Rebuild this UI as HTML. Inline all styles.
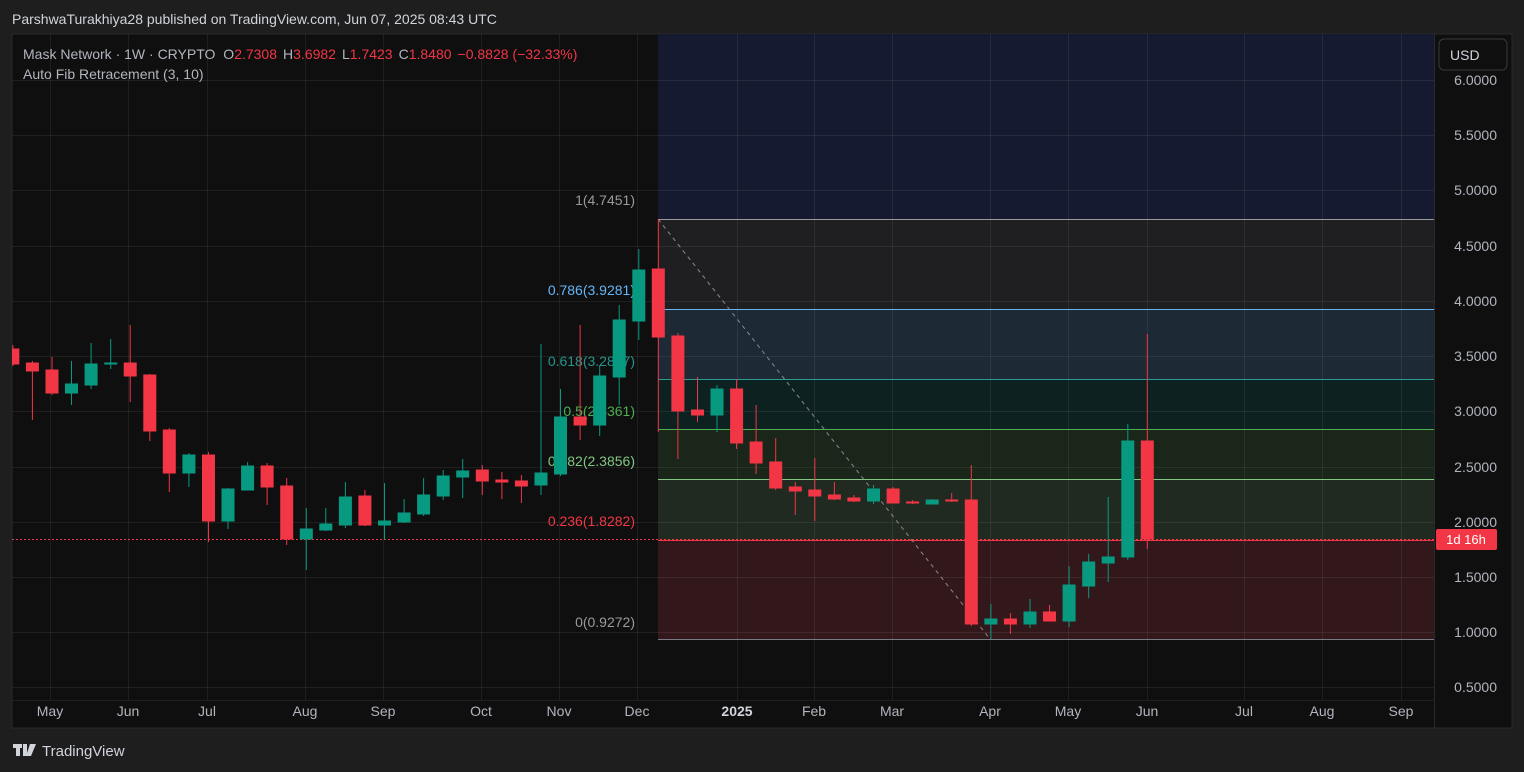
<!DOCTYPE html>
<html><head><meta charset="utf-8"><style>
html,body{margin:0;padding:0;background:#1e1e1e;width:1524px;height:772px;overflow:hidden}
svg{display:block;font-family:"Liberation Sans",sans-serif}
</style></head><body>
<svg width="1524" height="772" xmlns="http://www.w3.org/2000/svg">
<rect width="1524" height="772" fill="#1e1e1e"/>
<text x="12" y="24" fill="#d1d4dc" font-size="14">ParshwaTurakhiya28 published on TradingView.com, Jun 07, 2025 08:43 UTC</text>
<rect x="12" y="34" width="1500" height="694" fill="#0f0f0f" stroke="#2a2a2a"/>
<defs><clipPath id="c"><rect x="12" y="34" width="1422" height="666"/></clipPath></defs>
<g clip-path="url(#c)">
<!-- fib zones -->
<rect x="658" y="34" width="776" height="185" fill="#151a30"/>
<rect x="658" y="219" width="776" height="90" fill="#1f1f21"/>
<rect x="658" y="309" width="776" height="70" fill="#1d2935"/>
<rect x="658" y="379" width="776" height="50" fill="#0e2121"/>
<rect x="658" y="429" width="776" height="50" fill="#1a261a"/>
<rect x="658" y="479" width="776" height="61" fill="#202a20"/>
<rect x="658" y="540" width="776" height="100" fill="#32181b"/>
<!-- grid -->
<g stroke="#ffffff" stroke-opacity="0.07" stroke-width="1">
<line x1="12" x2="1434" y1="80.5" y2="80.5"/><line x1="12" x2="1434" y1="135.5" y2="135.5"/><line x1="12" x2="1434" y1="190.5" y2="190.5"/><line x1="12" x2="1434" y1="246.5" y2="246.5"/><line x1="12" x2="1434" y1="301.5" y2="301.5"/><line x1="12" x2="1434" y1="356.5" y2="356.5"/><line x1="12" x2="1434" y1="411.5" y2="411.5"/><line x1="12" x2="1434" y1="467.5" y2="467.5"/><line x1="12" x2="1434" y1="522.5" y2="522.5"/><line x1="12" x2="1434" y1="577.5" y2="577.5"/><line x1="12" x2="1434" y1="632.5" y2="632.5"/><line x1="12" x2="1434" y1="687.5" y2="687.5"/>
<line y1="34" y2="700" x1="50.5" x2="50.5"/><line y1="34" y2="700" x1="128.5" x2="128.5"/><line y1="34" y2="700" x1="207.5" x2="207.5"/><line y1="34" y2="700" x1="305.5" x2="305.5"/><line y1="34" y2="700" x1="383.5" x2="383.5"/><line y1="34" y2="700" x1="481.5" x2="481.5"/><line y1="34" y2="700" x1="559.5" x2="559.5"/><line y1="34" y2="700" x1="637.5" x2="637.5"/><line y1="34" y2="700" x1="737.5" x2="737.5"/><line y1="34" y2="700" x1="814.5" x2="814.5"/><line y1="34" y2="700" x1="892.5" x2="892.5"/><line y1="34" y2="700" x1="990.5" x2="990.5"/><line y1="34" y2="700" x1="1068.5" x2="1068.5"/><line y1="34" y2="700" x1="1147.5" x2="1147.5"/><line y1="34" y2="700" x1="1244.5" x2="1244.5"/><line y1="34" y2="700" x1="1322.5" x2="1322.5"/><line y1="34" y2="700" x1="1401.5" x2="1401.5"/>
</g>
<!-- fib lines -->
<line x1="658" x2="1434" y1="219.5" y2="219.5" stroke="#9a9a9a"/>
<line x1="658" x2="1434" y1="309.5" y2="309.5" stroke="#64b5f6"/>
<line x1="658" x2="1434" y1="379.5" y2="379.5" stroke="#2a9d93"/>
<line x1="658" x2="1434" y1="429.5" y2="429.5" stroke="#4caf50"/>
<line x1="658" x2="1434" y1="479.5" y2="479.5" stroke="#81c784"/>
<line x1="658" x2="1434" y1="540.5" y2="540.5" stroke="#f23645"/>
<line x1="658" x2="1434" y1="639.5" y2="639.5" stroke="#787b86"/>
<line x1="658" y1="219" x2="990" y2="639" stroke="#8a8a8a" stroke-dasharray="4,4"/>
<!-- fib labels -->
<g font-size="14" text-anchor="end">
<text x="635" y="205" fill="#9a9a9a">1(4.7451)</text>
<text x="635" y="295" fill="#64b5f6">0.786(3.9281)</text>
<text x="635" y="366" fill="#26948a">0.618(3.2877)</text>
<text x="635" y="416" fill="#4caf50">0.5(2.8361)</text>
<text x="635" y="466" fill="#81c784">0.382(2.3856)</text>
<text x="635" y="526" fill="#f23645">0.236(1.8282)</text>
<text x="635" y="627" fill="#9a9a9a">0(0.9272)</text>
</g>
<!-- current price dotted -->
<line x1="12" x2="1434" y1="539.5" y2="539.5" stroke="#f23645" stroke-dasharray="2,2"/>
<!-- candles -->
<g id="cd"></g>
<g stroke-width="1">
<g stroke="#f23645" fill="#f23645">
<line x1="12.85" x2="12.85" y1="345" y2="366"/><rect x="6.85" y="349" width="12" height="15"/>
<line x1="32.4" x2="32.4" y1="361" y2="420"/><rect x="26.4" y="363" width="12" height="8"/>
<line x1="52" x2="52" y1="357" y2="395"/><rect x="46" y="370" width="12" height="23"/>
<line x1="130.2" x2="130.2" y1="325" y2="402"/><rect x="124.2" y="363" width="12" height="13"/>
<line x1="149.8" x2="149.8" y1="374" y2="441"/><rect x="143.8" y="375" width="12" height="56"/>
<line x1="169.3" x2="169.3" y1="428" y2="492"/><rect x="163.3" y="430" width="12" height="43"/>
<line x1="208.5" x2="208.5" y1="452" y2="542"/><rect x="202.5" y="455" width="12" height="66"/>
<line x1="267.1" x2="267.1" y1="463" y2="505"/><rect x="261.1" y="466" width="12" height="21"/>
<line x1="286.7" x2="286.7" y1="478" y2="545"/><rect x="280.7" y="486" width="12" height="53"/>
<line x1="364.9" x2="364.9" y1="490" y2="526"/><rect x="358.9" y="496" width="12" height="29"/>
<line x1="482.3" x2="482.3" y1="465" y2="495"/><rect x="476.3" y="470" width="12" height="11"/>
<line x1="501.9" x2="501.9" y1="472" y2="499"/><rect x="495.9" y="480" width="12" height="2"/>
<line x1="521.4" x2="521.4" y1="475" y2="503"/><rect x="515.4" y="481" width="12" height="5"/>
<line x1="580.1" x2="580.1" y1="325" y2="440"/><rect x="574.1" y="417" width="12" height="8"/>
<line x1="658.3" x2="658.3" y1="219" y2="432"/><rect x="652.3" y="269" width="12" height="68"/>
<line x1="677.9" x2="677.9" y1="333" y2="459"/><rect x="671.9" y="336" width="12" height="75"/>
<line x1="697.5" x2="697.5" y1="377" y2="422"/><rect x="691.5" y="410" width="12" height="5"/>
<line x1="736.6" x2="736.6" y1="379" y2="449"/><rect x="730.6" y="389" width="12" height="54"/>
<line x1="756.1" x2="756.1" y1="405" y2="474"/><rect x="750.1" y="442" width="12" height="21"/>
<line x1="775.7" x2="775.7" y1="438" y2="490"/><rect x="769.7" y="462" width="12" height="26"/>
<line x1="795.3" x2="795.3" y1="482" y2="515"/><rect x="789.3" y="487" width="12" height="4"/>
<line x1="814.8" x2="814.8" y1="458" y2="521"/><rect x="808.8" y="490" width="12" height="6"/>
<line x1="834.4" x2="834.4" y1="482" y2="500"/><rect x="828.4" y="495" width="12" height="4"/>
<line x1="853.9" x2="853.9" y1="495" y2="502"/><rect x="847.9" y="498" width="12" height="3"/>
<line x1="893.1" x2="893.1" y1="487" y2="503"/><rect x="887.1" y="489" width="12" height="14"/>
<line x1="912.6" x2="912.6" y1="500" y2="504"/><rect x="906.6" y="502" width="12" height="1"/>
<line x1="951.7" x2="951.7" y1="493" y2="502"/><rect x="945.7" y="500" width="12" height="1"/>
<line x1="971.3" x2="971.3" y1="465" y2="626"/><rect x="965.3" y="500" width="12" height="124"/>
<line x1="1010.4" x2="1010.4" y1="613" y2="634"/><rect x="1004.4" y="619" width="12" height="5"/>
<line x1="1049.5" x2="1049.5" y1="605" y2="621"/><rect x="1043.5" y="612" width="12" height="9"/>
<line x1="1147.3" x2="1147.3" y1="334" y2="549"/><rect x="1141.3" y="441" width="12" height="98"/>
</g>
<g stroke="#089981" fill="#089981">
<line x1="71.5" x2="71.5" y1="361" y2="405"/><rect x="65.5" y="384" width="12" height="9"/>
<line x1="91.1" x2="91.1" y1="343" y2="389"/><rect x="85.1" y="364" width="12" height="21"/>
<line x1="110.7" x2="110.7" y1="339" y2="369"/><rect x="104.7" y="363" width="12" height="1"/>
<line x1="188.9" x2="188.9" y1="453" y2="487"/><rect x="182.9" y="455" width="12" height="18"/>
<line x1="228" x2="228" y1="488" y2="529"/><rect x="222" y="489" width="12" height="32"/>
<line x1="247.6" x2="247.6" y1="462" y2="490"/><rect x="241.6" y="466" width="12" height="24"/>
<line x1="306.3" x2="306.3" y1="508" y2="570"/><rect x="300.3" y="529" width="12" height="10"/>
<line x1="325.8" x2="325.8" y1="508" y2="531"/><rect x="319.8" y="524" width="12" height="6"/>
<line x1="345.4" x2="345.4" y1="482" y2="528"/><rect x="339.4" y="497" width="12" height="28"/>
<line x1="384.5" x2="384.5" y1="483" y2="540"/><rect x="378.5" y="521" width="12" height="4"/>
<line x1="404.1" x2="404.1" y1="499" y2="523"/><rect x="398.1" y="513" width="12" height="9"/>
<line x1="423.6" x2="423.6" y1="478" y2="516"/><rect x="417.6" y="495" width="12" height="19"/>
<line x1="443.2" x2="443.2" y1="470" y2="500"/><rect x="437.2" y="476" width="12" height="20"/>
<line x1="462.7" x2="462.7" y1="459" y2="498"/><rect x="456.7" y="471" width="12" height="6"/>
<line x1="541" x2="541" y1="344" y2="495"/><rect x="535" y="473" width="12" height="12"/>
<line x1="560.5" x2="560.5" y1="389" y2="476"/><rect x="554.5" y="417" width="12" height="57"/>
<line x1="599.7" x2="599.7" y1="365" y2="436"/><rect x="593.7" y="376" width="12" height="49"/>
<line x1="619.2" x2="619.2" y1="305" y2="405"/><rect x="613.2" y="320" width="12" height="57"/>
<line x1="638.8" x2="638.8" y1="249" y2="340"/><rect x="632.8" y="270" width="12" height="51"/>
<line x1="717" x2="717" y1="385" y2="432"/><rect x="711" y="389" width="12" height="26"/>
<line x1="873.5" x2="873.5" y1="485" y2="504"/><rect x="867.5" y="489" width="12" height="12"/>
<line x1="932.2" x2="932.2" y1="499" y2="504"/><rect x="926.2" y="500" width="12" height="4"/>
<line x1="990.9" x2="990.9" y1="604" y2="639"/><rect x="984.9" y="619" width="12" height="5"/>
<line x1="1030" x2="1030" y1="599" y2="628"/><rect x="1024" y="612" width="12" height="12"/>
<line x1="1069.1" x2="1069.1" y1="566" y2="627"/><rect x="1063.1" y="585" width="12" height="36"/>
<line x1="1088.7" x2="1088.7" y1="554" y2="598"/><rect x="1082.7" y="562" width="12" height="24"/>
<line x1="1108.2" x2="1108.2" y1="497" y2="582"/><rect x="1102.2" y="557" width="12" height="6"/>
<line x1="1127.8" x2="1127.8" y1="424" y2="560"/><rect x="1121.8" y="441" width="12" height="116"/>
</g>
</g>
</g>
<!-- legend -->
<text x="23" y="59" font-size="14" fill="#b2b5be">Mask Network · 1W · CRYPTO <tspan dx="4">O</tspan><tspan fill="#f23645">2.7308</tspan><tspan dx="6">H</tspan><tspan fill="#f23645">3.6982</tspan><tspan dx="6">L</tspan><tspan fill="#f23645">1.7423</tspan><tspan dx="6">C</tspan><tspan fill="#f23645">1.8480</tspan><tspan dx="6" fill="#f23645">−0.8828 (−32.33%)</tspan></text>
<text x="23" y="79" font-size="14" fill="#b2b5be">Auto Fib Retracement (3, 10)</text>
<!-- price axis -->
<line x1="1434.5" x2="1434.5" y1="34" y2="728" stroke="#2a2a2a"/>
<rect x="1439" y="39" width="68" height="31" rx="5" fill="#0f0f0f" stroke="#3a3a3a"/>
<text x="1450" y="60" font-size="14" fill="#d1d4dc">USD</text>
<g font-size="14" fill="#b2b5be" text-anchor="end">
<text x="1497" y="85">6.0000</text><text x="1497" y="140">5.5000</text><text x="1497" y="195">5.0000</text><text x="1497" y="251">4.5000</text><text x="1497" y="306">4.0000</text><text x="1497" y="361">3.5000</text><text x="1497" y="416">3.0000</text><text x="1497" y="472">2.5000</text><text x="1497" y="527">2.0000</text><text x="1497" y="582">1.5000</text><text x="1497" y="637">1.0000</text><text x="1497" y="692">0.5000</text>
</g>
<rect x="1436" y="529" width="61" height="21" rx="2" fill="#f23645"/>
<text x="1466" y="544" font-size="13" fill="#ffffff" text-anchor="middle">1d 16h</text>
<!-- time axis -->
<line x1="12" x2="1434" y1="700.5" y2="700.5" stroke="#1f1f1f"/>
<g font-size="14" fill="#b2b5be" text-anchor="middle">
<text x="50" y="716">May</text><text x="128" y="716">Jun</text><text x="207" y="716">Jul</text><text x="305" y="716">Aug</text><text x="383" y="716">Sep</text><text x="481" y="716">Oct</text><text x="559" y="716">Nov</text><text x="637" y="716">Dec</text><text x="737" y="716" font-weight="bold" fill="#d1d4dc">2025</text><text x="814" y="716">Feb</text><text x="892" y="716">Mar</text><text x="990" y="716">Apr</text><text x="1068" y="716">May</text><text x="1147" y="716">Jun</text><text x="1244" y="716">Jul</text><text x="1322" y="716">Aug</text><text x="1401" y="716">Sep</text>
</g>
<!-- footer -->
<g fill="#d1d4dc">
<rect x="13" y="744" width="9" height="4"/><rect x="16" y="744" width="4" height="12"/>
<path d="M23 744 h4 v12 h-4z"/><path d="M30 744 h6 l-5 12 h-5z"/>
</g>
<text x="42" y="756" font-size="15" fill="#d1d4dc">TradingView</text>
</svg>
</body></html>
